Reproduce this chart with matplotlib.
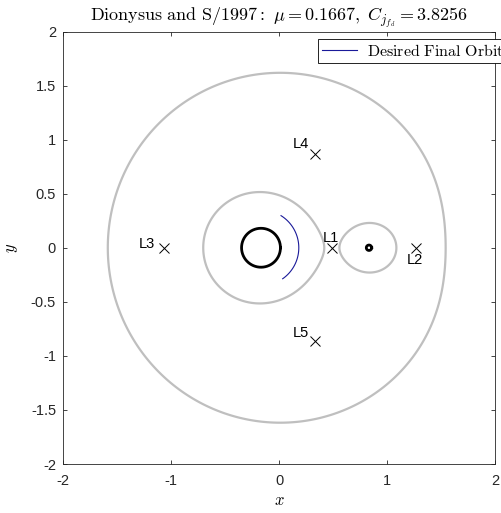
import numpy as np
import matplotlib
matplotlib.use('Agg')
import matplotlib.pyplot as plt

plt.rcParams['mathtext.fontset'] = 'cm'
plt.rcParams['font.family'] = ['Liberation Sans', 'DejaVu Sans']

# System parameters (read from the title)
mu = 0.1667
Cj = 3.8256

# Lagrange points (x, y) and labels
Lnames = ['L1', 'L2', 'L3', 'L4', 'L5']
Lx = [0.492, 1.271, -1.069, 0.333, 0.333]
Ly = [0.0, 0.0, 0.0, 0.866, -0.866]
# label offsets in points (dx, dy)
Loff = [(-1, 7), (-1, -9), (-12, 2.5), (-10, 7), (-10, 6)]

# primaries: centre x and drawn radius
Px = [-mu, 1 - mu]
Pr = [0.18, 0.025]

# desired final orbit arc about primary 1
orb_r = 0.35
orb_th = [-55.0, 58.0]   # degrees

# Jacobi constant field for the zero velocity curves
xg = np.linspace(-2, 2, 1201)
yg = np.linspace(-2, 2, 1201)
X, Y = np.meshgrid(xg, yg)
r1 = np.sqrt((X + mu)**2 + Y**2)
r2 = np.sqrt((X - 1 + mu)**2 + Y**2)
J = X**2 + Y**2 + 2*(1 - mu)/r1 + 2*mu/r2

fig = plt.figure(figsize=(5.01, 5.13), dpi=100)
ax = fig.add_axes([63/501, (513-464)/513, 432/501, 432.5/513])

ax.contour(X, Y, J, levels=[Cj], colors=[(0.75, 0.75, 0.75)], linewidths=1.6)

th = np.linspace(0, 2*np.pi, 300)
for px, pr in zip(Px, Pr):
    ax.plot(px + pr*np.cos(th), pr*np.sin(th), color='k', lw=2.0)

ta = np.radians(np.linspace(orb_th[0], orb_th[1], 100))
ax.plot(Px[0] + orb_r*np.cos(ta), orb_r*np.sin(ta), color=(0.1, 0.1, 0.6),
        lw=0.8, label='Desired Final Orbit')

ax.plot(Lx, Ly, 'kx', ms=7, mew=0.7)
for n, x, y, (dx, dy) in zip(Lnames, Lx, Ly, Loff):
    ax.annotate(n, (x, y), xytext=(dx, dy), textcoords='offset points',
                ha='center', va='center', fontsize=10.5)

ax.set_xlim(-2, 2)
ax.set_ylim(-2, 2)
ax.set_xticks([-2, -1, 0, 1, 2])
ax.set_yticks(np.arange(-2, 2.01, 0.5))
ax.set_yticklabels(['-2', '-1.5', '-1', '-0.5', '0', '0.5', '1', '1.5', '2'])
ax.set_xticklabels(['-2', '-1', '0', '1', '2'])
ax.tick_params(direction='in', length=3, width=0.6, top=True, right=True,
               labelsize=10.5, colors=(0.15, 0.15, 0.15))
ax.tick_params(axis='x', pad=7)
ax.tick_params(axis='y', pad=5)
for s in ax.spines.values():
    s.set_color((0.15, 0.15, 0.15))
    s.set_linewidth(0.6)

ax.set_xlabel('$x$', fontsize=12, labelpad=4)
ax.set_ylabel('$y$', fontsize=12, labelpad=8)
ax.set_title(r'$\mathrm{Dionysus\ and\ S/1997{:}}\ \mu = 0.1667,\ C_{j_{f_d}} = 3.8256$',
             fontsize=13, pad=8)

leg = ax.legend(loc='upper left', bbox_to_anchor=(0.59, 0.983), borderaxespad=0,
                fancybox=False, framealpha=1, edgecolor='k',
                prop={'size': 11.5}, handlelength=2.2,
                handletextpad=0.6, borderpad=0.25)
leg.get_frame().set_linewidth(0.6)
for t in leg.get_texts():
    t.set_text(r'$\mathrm{Desired\ Final\ Orbit}$')

fig.savefig('out.png', dpi=100)
